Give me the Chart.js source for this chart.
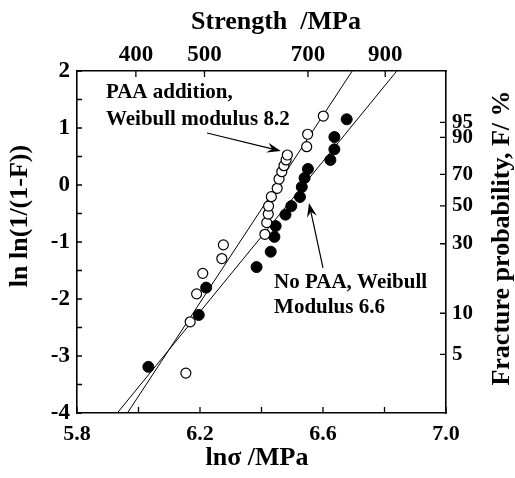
<!DOCTYPE html>
<html><head><meta charset="utf-8">
<script src="https://cdn.jsdelivr.net/npm/chart.js@4/dist/chart.umd.min.js"></script>
<style>html,body{margin:0;padding:0;background:#fff;}#wrap{width:515px;height:478px;}</style>
</head><body><div id="wrap"><canvas id="c" width="515" height="478"></canvas></div>
<script>
// ---- data ----
const paaLnSigma = [6.154, 6.168, 6.189, 6.209, 6.271, 6.276, 6.411, 6.417, 6.422, 6.423, 6.432, 6.451, 6.457, 6.466, 6.473, 6.480, 6.484, 6.547, 6.550, 6.601];
const paaWeibull = [-3.30, -2.40, -1.91, -1.55, -1.29, -1.05, -0.865, -0.66, -0.51, -0.37, -0.205, -0.058, 0.105, 0.233, 0.339, 0.44, 0.526, 0.672, 0.89, 1.21];
const noPaaLnSigma = [6.032, 6.196, 6.220, 6.384, 6.430, 6.442, 6.446, 6.478, 6.497, 6.525, 6.531, 6.540, 6.551, 6.624, 6.637, 6.637, 6.677];
const noPaaWeibull = [-3.19, -2.28, -1.80, -1.44, -1.17, -0.91, -0.72, -0.52, -0.37, -0.21, -0.035, 0.123, 0.281, 0.439, 0.626, 0.842, 1.153];
const paaFitX = [5.964, 6.695];
const paaFitY = [-4, 2];
const noPaaFitX = [5.931, 6.840];
const noPaaFitY = [-4, 2];
const xTicks = [5.8, 6.2, 6.6, 7.0];
const xTickMarks = [5.8, 6.0, 6.2, 6.4, 6.6, 6.8, 7.0];
const yTicks = [-4, -3, -2, -1, 0, 1, 2];
const yTickMarks = [-4, -3.5, -3, -2.5, -2, -1.5, -1, -0.5, 0, 0.5, 1, 1.5, 2];
const strengthTicks = [400, 500, 700, 900];
const probTicks = [5, 10, 30, 50, 70, 90, 95];

const FAM = "'Liberation Serif', 'Times New Roman', serif";
const toWeibull = F => Math.log(-Math.log(1 - F / 100));

const pts = (xs, ys) => xs.map((x, i) => ({x: x, y: ys[i]}));

const inTicks = {
  id: 'inTicks',
  afterDraw(chart) {
    const {ctx, chartArea: a, scales} = chart;
    ctx.save();
    ctx.strokeStyle = '#000';
    ctx.lineWidth = 1.3;
    ctx.beginPath();
    xTickMarks.forEach(v => { const p = scales.x.getPixelForValue(v); ctx.moveTo(p, a.bottom); ctx.lineTo(p, a.bottom - 6); });
    strengthTicks.forEach(v => { const p = scales.x2.getPixelForValue(Math.log(v)); ctx.moveTo(p, a.top); ctx.lineTo(p, a.top + 6); });
    yTickMarks.forEach(v => { const p = scales.y.getPixelForValue(v); ctx.moveTo(a.left, p); ctx.lineTo(a.left + 5, p); });
    probTicks.forEach(v => { const p = scales.y2.getPixelForValue(toWeibull(v)); ctx.moveTo(a.right, p); ctx.lineTo(a.right - 6, p); });
    ctx.stroke();

    // axis titles
    ctx.fillStyle = '#000';
    ctx.font = 'bold 26px ' + FAM;
    ctx.textAlign = 'center';
    ctx.textBaseline = 'alphabetic';
    ctx.fillText('Strength  /MPa', 276, 29);
    ctx.fillText('ln\u03c3 /MPa', 257, 465);
    ctx.save();
    ctx.translate(20, 216);
    ctx.rotate(-Math.PI / 2);
    ctx.textBaseline = 'middle';
    ctx.fillText('ln ln(1/(1-F))', 0, 0);
    ctx.restore();
    ctx.save();
    ctx.translate(502, 238);
    ctx.rotate(-Math.PI / 2);
    ctx.textBaseline = 'middle';
    ctx.fillText('Fracture probability, F/ %', 0, 0);
    ctx.restore();

    // annotations
    const X = v => scales.x.getPixelForValue(v), Y = v => scales.y.getPixelForValue(v);
    ctx.font = 'bold 21px ' + FAM;
    ctx.textAlign = 'left';
    ctx.textBaseline = 'alphabetic';
    ctx.fillText('PAA addition,', X(5.894), Y(1.526));
    ctx.fillText('Weibull modulus 8.2', X(5.894), Y(1.053));
    ctx.fillText('No PAA, Weibull', X(6.441), Y(-1.807));
    ctx.fillText('Modulus 6.6', X(6.441), Y(-2.246));

    const arrow = (x1, y1, x2, y2) => {
      const ax = X(x1), ay = Y(y1), bx = X(x2), by = Y(y2);
      const ang = Math.atan2(by - ay, bx - ax);
      const L = 14, W = 5;
      ctx.beginPath();
      ctx.moveTo(ax, ay);
      ctx.lineTo(bx - Math.cos(ang) * 8, by - Math.sin(ang) * 8);
      ctx.lineWidth = 1.2;
      ctx.stroke();
      ctx.beginPath();
      ctx.moveTo(bx, by);
      ctx.lineTo(bx - L * Math.cos(ang) + W * Math.sin(ang), by - L * Math.sin(ang) - W * Math.cos(ang));
      ctx.lineTo(bx - 9 * Math.cos(ang), by - 9 * Math.sin(ang));
      ctx.lineTo(bx - L * Math.cos(ang) - W * Math.sin(ang), by - L * Math.sin(ang) + W * Math.cos(ang));
      ctx.closePath();
      ctx.fill();
    };
    arrow(6.223, 0.912, 6.463, 0.596);
    arrow(6.600, -1.456, 6.5545, -0.316);
    ctx.restore();
  }
};

const tickFont = size => ({family: FAM, size: size, weight: 'bold'});
const common = {
  grid: {drawOnChartArea: false, drawTicks: false},
  border: {display: true, color: '#000', width: 1.6},
};

new Chart(document.getElementById('c'), {
  type: 'scatter',
  data: {
    datasets: [
      {label: 'PAA fit', data: pts(paaFitX, paaFitY), showLine: true, borderColor: '#000', borderWidth: 1, pointRadius: 0, order: 3},
      {label: 'No PAA fit', data: pts(noPaaFitX, noPaaFitY), showLine: true, borderColor: '#000', borderWidth: 1, pointRadius: 0, order: 3},
      {label: 'No PAA', data: pts(noPaaLnSigma, noPaaWeibull), pointRadius: 5.5, pointBackgroundColor: '#000', pointBorderColor: '#000', pointBorderWidth: 1, order: 2},
      {label: 'PAA addition', data: pts(paaLnSigma, paaWeibull), pointRadius: 5, pointBackgroundColor: '#fff', pointBorderColor: '#000', pointBorderWidth: 1.2, order: 1}
    ]
  },
  options: {
    responsive: false,
    devicePixelRatio: 1,
    animation: false,
    layout: {padding: 0},
    plugins: {legend: {display: false}, tooltip: {enabled: false}},
    scales: {
      x: Object.assign({}, common, {
        type: 'linear', position: 'bottom', min: 5.8, max: 7.0,
        afterBuildTicks: s => { s.ticks = xTicks.map(v => ({value: v})); },
        afterFit: s => { s.height = 65; },
        ticks: {autoSkip: false, maxRotation: 0, padding: 8, color: '#000', font: tickFont(22), callback: v => Number(v).toFixed(1)}
      }),
      x2: Object.assign({}, common, {
        type: 'linear', position: 'top', min: 5.8, max: 7.0,
        afterBuildTicks: s => { s.ticks = strengthTicks.map(v => ({value: Math.log(v)})); },
        afterFit: s => { s.height = 71; },
        ticks: {autoSkip: false, maxRotation: 0, padding: 2, color: '#000', font: tickFont(23), callback: v => String(Math.round(Math.exp(v)))}
      }),
      y: Object.assign({}, common, {
        type: 'linear', position: 'left', min: -4, max: 2,
        afterBuildTicks: s => { s.ticks = yTicks.map(v => ({value: v})); },
        afterFit: s => { s.width = 77; },
        ticks: {autoSkip: false, padding: 7, color: '#000', font: tickFont(23), callback: v => String(v)}
      }),
      y2: Object.assign({}, common, {
        type: 'linear', position: 'right', min: -4, max: 2,
        afterBuildTicks: s => { s.ticks = probTicks.map(v => ({value: toWeibull(v)})); },
        afterFit: s => { s.width = 69; },
        ticks: {autoSkip: false, padding: 6, color: '#000', font: tickFont(21), callback: (v, i) => String(probTicks[i])}
      })
    }
  },
  plugins: [inTicks]
});
</script>
</body></html>
